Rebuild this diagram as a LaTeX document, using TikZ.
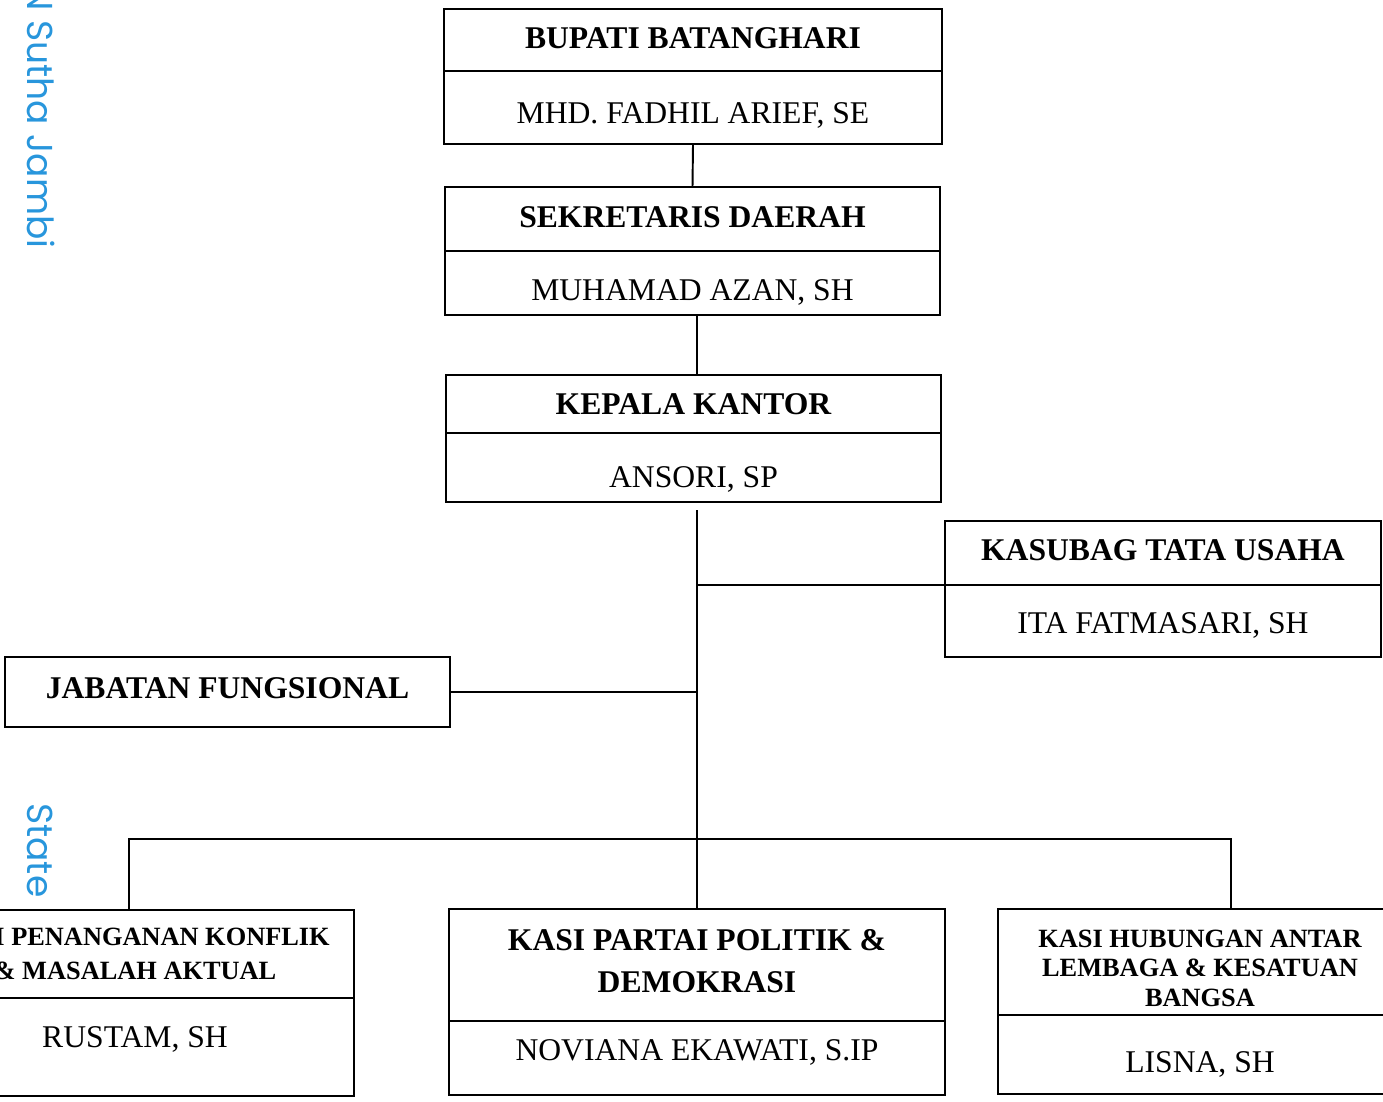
\documentclass[tikz,border=0pt]{standalone}
\usepackage{fontspec}
\setmainfont{Liberation Serif}
\newfontfamily\wmfont{Poppins}
\usetikzlibrary{positioning}
\definecolor{wmblue}{RGB}{40,150,220}

\tikzset{
  jab/.style={draw, fill=white, line width=1.1pt, inner sep=0pt, outer sep=0pt,
    align=center, font=\fontsize{18}{24}\selectfont\bfseries},
  jabkecil/.style={jab, font=\fontsize{15}{17}\selectfont\bfseries},
  nama/.style={draw, fill=white, line width=1.1pt, inner sep=0pt, outer sep=0pt,
    align=center, font=\fontsize{18}{22}\selectfont, text height=#1, text depth=0.1cm},
  garis/.style={line width=1.1pt},
  tanda/.style={wmblue, rotate=-90, inner sep=0pt, font=\wmfont\fontsize{20.5}{21}\selectfont},
}

\begin{document}
\begin{tikzpicture}[x=0.02cm, y=-0.02cm]
  \useasboundingbox (0,0) rectangle (1383,1102);
  \clip (0,0) rectangle (1383,1102);

  % watermark
  \node[tanda, anchor=base east] (tandaatas) at (28,249) {N Sutha Jambi};
  \node[tanda, anchor=base west] (tandabawah) at (28,803) {State I};

  % pimpinan
  \node[jab, text height=0.44cm, text depth=0.1cm, minimum width=9.96cm, minimum height=1.24cm] (bupati) at (693,40) {BUPATI BATANGHARI};
  \node[nama=0.74cm, minimum width=9.96cm, minimum height=1.46cm, below=0pt of bupati] (bupatinama) {MHD. FADHIL ARIEF, SE};

  \node[jab, text height=0.44cm, text depth=0.1cm, minimum width=9.9cm, minimum height=1.28cm] (sekda) at (692.5,219) {SEKRETARIS DAERAH};
  \node[nama=0.8cm, minimum width=9.9cm, minimum height=1.28cm, below=0pt of sekda] (sekdanama) {MUHAMAD AZAN, SH};

  \node[jab, text height=0.52cm, text depth=0.1cm, minimum width=9.9cm, minimum height=1.16cm] (kepala) at (693.5,404) {KEPALA KANTOR};
  \node[nama=0.9cm, minimum width=9.9cm, minimum height=1.38cm, below=0pt of kepala] (kepalanama) {ANSORI, SP};

  \node[jab, text height=0.4cm, text depth=0.1cm, minimum width=8.72cm, minimum height=1.28cm] (kasubag) at (1163,553) {KASUBAG TATA USAHA};
  \node[nama=0.6cm, minimum width=8.72cm, minimum height=1.44cm, below=0pt of kasubag] (kasubagnama) {ITA FATMASARI, SH};

  \node[jab, text height=0.36cm, text depth=0.1cm, minimum width=8.9cm, minimum height=1.4cm] (fungsional) at (227.5,692) {JABATAN FUNGSIONAL};

  % seksi
  \node[jabkecil, font=\fontsize{15}{19.5}\selectfont\bfseries, minimum width=8.76cm, minimum height=1.76cm] (konflik) at (135,954)
    {KASI PENANGANAN KONFLIK\\\& MASALAH AKTUAL};
  \node[nama=0.12cm, minimum width=8.76cm, minimum height=1.96cm, below=0pt of konflik] (konfliknama) {RUSTAM, SH};

  \node[jab, text height=1.1cm, text depth=0cm, minimum width=9.92cm, minimum height=2.24cm] (partai) at (697,965)
    {KASI PARTAI POLITIK \&\\DEMOKRASI};
  \node[nama=0.2cm, minimum width=9.92cm, minimum height=1.48cm, below=0pt of partai] (partainama) {NOVIANA EKAWATI, S.IP};

  \node[jabkecil, text height=1.79cm, text depth=0cm, minimum width=8.08cm, minimum height=2.12cm] (hubungan) at (1200,962)
    {KASI HUBUNGAN ANTAR\\LEMBAGA \& KESATUAN\\BANGSA};
  \node[nama=0.82cm, minimum width=8.08cm, minimum height=1.58cm, below=0pt of hubungan] (hubungannama) {LISNA, SH};

  % garis komando
  \coordinate (batang) at (697,510);
  \coordinate (busL) at (129,839);
  \coordinate (busR) at (1231,839);
  \draw[garis] (bupatinama.south) -- (sekda.north);
  \draw[garis] (batang |- sekdanama.south) -- (batang |- kepala.north);
  \draw[garis] (batang) -- (partai.north);
  \draw[garis] (kasubag.south west) -- (kasubag.south west -| batang);
  \draw[garis] (fungsional.east) -- (fungsional.east -| batang);
  \draw[garis] (busL |- konflik.north) -- (busL) -- (busR) -- (busR |- hubungan.north);
\end{tikzpicture}
\end{document}
